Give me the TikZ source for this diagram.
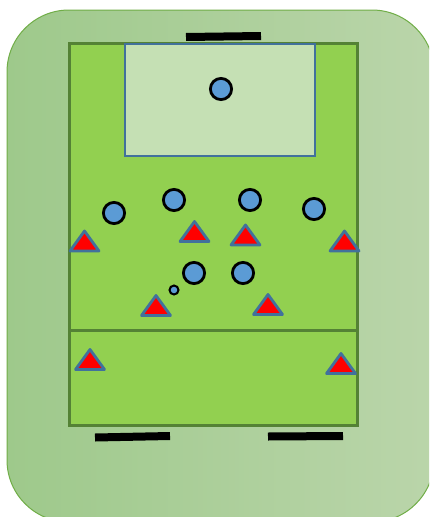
\documentclass[tikz,border=0pt]{standalone}
\definecolor{bgL}{RGB}{158,201,139}
\definecolor{bgR}{RGB}{186,213,170}
\definecolor{bgline}{RGB}{112,173,71}
\definecolor{field}{RGB}{146,208,80}
\definecolor{fieldline}{RGB}{84,130,53}
\definecolor{boxfill}{RGB}{197,224,180}
\definecolor{boxline}{RGB}{65,113,156}
\definecolor{player}{RGB}{91,155,213}
\tikzset{
  playerc/.style={fill=player,draw=black,line width=2.8pt},
  cone/.style={fill=red,draw=boxline,line width=2.8pt,line join=round},
  goalbar/.style={line width=8pt,black},
  pics/redtri/.style={code={\draw[cone] (-14.5,10) -- (0,-10) -- (14.5,10) -- cycle;}}
}
\begin{document}
\begin{tikzpicture}[x=1pt,y=-1pt]
\useasboundingbox (0,0) rectangle (429,517);
\clip (0,0) rectangle (429,517);
% background
\draw[bgline,line width=1pt,left color=bgL,right color=bgR,rounded corners=62pt] (7,10) rectangle (434,522);
% field
\draw[fieldline,fill=field,line width=3pt] (69,43) rectangle (357,425);
\draw[fieldline,line width=3pt] (69,330) -- (357,330);
% penalty box
\draw[boxline,fill=boxfill,line width=2pt] (125,44) rectangle (315,156);
% goal bars
\draw[goalbar] (186,37) -- (261,36);
\draw[goalbar] (95,437.5) -- (170,436);
\draw[goalbar] (268,436.5) -- (343,436);
% players
\foreach \p in {(221,89),(114,213),(174,200),(250,200),(314,209),(194,273),(243,273)}
  \draw[playerc] \p circle (10.6);
\draw[playerc,line width=2pt] (174,290) circle (4.5);
% cones
\foreach \p in {(84.5,241),(194.5,231.5),(245.5,235),(344.5,241),(156,305.5),(268,304.5),(90,359.5),(341,363.5)}
  \pic at \p {redtri};
\end{tikzpicture}
\end{document}
